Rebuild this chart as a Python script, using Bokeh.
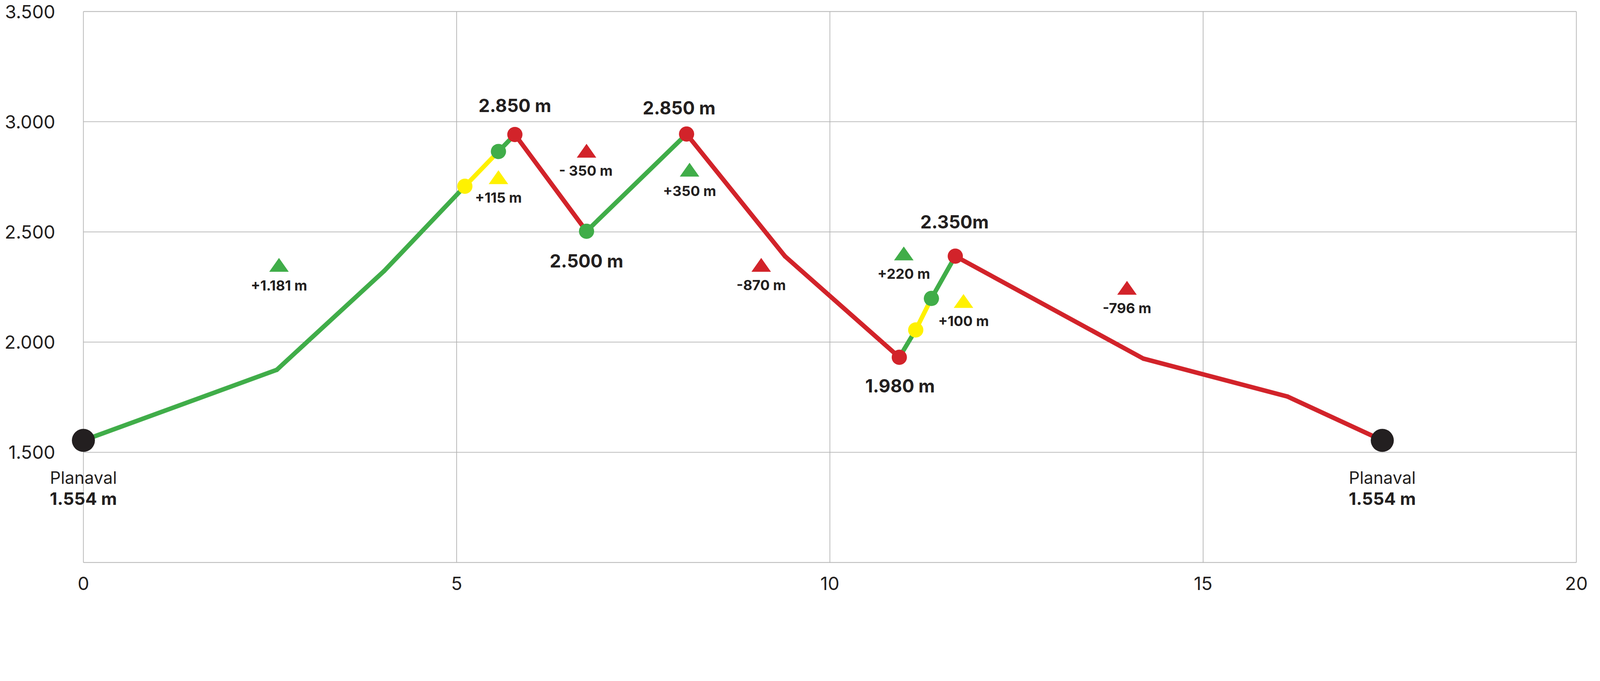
from bokeh.plotting import figure
from bokeh.models import FixedTicker, ColumnDataSource
from bokeh.core.properties import value
from bokeh.embed import file_html
from bokeh.resources import INLINE

# ---- data ----
dist = [0.0, 2.59, 4.03, 5.11, 5.56, 5.78, 6.74, 8.08, 9.40, 10.93, 11.15, 11.36, 11.68, 14.20, 16.13, 17.40]
elev = [1554, 1874, 2323, 2707, 2865, 2942, 2503, 2944, 2389, 1931, 2055, 2198, 2390, 1925, 1753, 1554]
seg_kind = ["up", "up", "up", "mid", "up", "down", "up", "down", "down", "up", "mid", "up", "down", "down", "down"]

dot_idx = [3, 4, 5, 6, 7, 9, 10, 11, 12]
dot_kind = ["mid", "up", "down", "up", "down", "down", "mid", "up", "down"]
end_idx = [0, 15]

tri_x = [2.62, 5.56, 6.74, 8.12, 9.08, 10.99, 11.79, 13.98]
tri_base = [2319, 2717, 2837, 2751, 2319, 2371, 2155, 2215]
tri_kind = ["up", "mid", "down", "up", "down", "up", "mid", "down"]

gain_x = [2.62, 5.56, 6.73, 8.12, 9.08, 10.99, 11.79, 13.98]
gain_y = [2257, 2656, 2778, 2685, 2258, 2310, 2096, 2155]
gain_text = ["+1.181 m", "+115 m", "- 350 m", "+350 m", "-870 m", "+220 m", "+100 m", "-796 m"]

peak_x = [5.78, 7.98, 6.74, 11.67, 10.94]
peak_y = [3073, 3063, 2368, 2546, 1802]
peak_text = ["2.850 m", "2.850 m", "2.500 m", "2.350m", "1.980 m"]

place_x = [0.0, 17.4]
place_name_y = [1386, 1386]
place_elev_y = [1290, 1290]
place_name = ["Planaval", "Planaval"]
place_elev = ["1.554 m", "1.554 m"]

y_ticks = [1500, 2000, 2500, 3000, 3500]
y_tick_labels = ["1.500", "2.000", "2.500", "3.000", "3.500"]
y_lines = [1000, 1500, 2000, 2500, 3000, 3500]
x_ticks = [0, 5, 10, 15, 20]
x_min, x_max = 0, 20
y_min, y_max = 1000, 3500

# ---- styles / layout (CSS px) ----
COL = {"up": "#40ad49", "down": "#d2232a", "mid": "#fff100"}
DARK = "#231f20"
GRID = "#b3b3b3"
FONT = "Inter"

PX_X = 191.1      # px per km
PX_Y = 0.5644     # px per metre
LEFT_PAD, RIGHT_PAD = 213, 2     # px of frame beyond x_min / x_max
TOP_PAD, BOTTOM_PAD = 29, 2      # px of frame beyond y_max / y_min
XR = (x_min - LEFT_PAD / PX_X, x_max + RIGHT_PAD / PX_X)
YR = (y_min - BOTTOM_PAD / PX_Y, y_max + TOP_PAD / PX_Y)
FRAME_W = int(round((XR[1] - XR[0]) * PX_X))
FRAME_H = int(round((YR[1] - YR[0]) * PX_Y))

p = figure(output_backend="svg", toolbar_location=None,
           frame_width=FRAME_W, frame_height=FRAME_H,
           min_border_left=0, min_border_top=0, min_border_right=36, min_border_bottom=91,
           x_range=XR, y_range=YR)
p.background_fill_color = "white"
p.border_fill_color = "white"
p.outline_line_color = None

p.xaxis.ticker = FixedTicker(ticks=x_ticks)
p.yaxis.ticker = FixedTicker(ticks=y_ticks)
p.yaxis.major_label_overrides = {t: l for t, l in zip(y_ticks, y_tick_labels)}
p.yaxis.fixed_location = x_min
for ax in (p.xaxis, p.yaxis):
    ax.axis_line_color = None
    ax.major_tick_line_color = None
    ax.minor_tick_line_color = None
    ax.major_label_text_font = FONT
    ax.major_label_text_font_size = "47px"
    ax.major_label_text_color = DARK
p.yaxis.major_label_standoff = 66
p.xaxis.major_label_standoff = 28
p.grid.grid_line_color = None

# grid lines limited to the data box
p.segment(x0=[x_min] * len(y_lines), y0=y_lines, x1=[x_max] * len(y_lines), y1=y_lines,
          line_color=GRID, line_width=1.8)
p.segment(x0=x_ticks, y0=[y_min] * len(x_ticks), x1=x_ticks, y1=[y_max] * len(x_ticks),
          line_color=GRID, line_width=1.8)

# profile segments
seg = ColumnDataSource(dict(x0=dist[:-1], y0=elev[:-1], x1=dist[1:], y1=elev[1:],
                            c=[COL[k] for k in seg_kind]))
p.segment("x0", "y0", "x1", "y1", source=seg, line_color="c", line_width=11.5, line_cap="round")

# dots
dots = ColumnDataSource(dict(x=[dist[i] for i in dot_idx], y=[elev[i] for i in dot_idx],
                             c=[COL[k] for k in dot_kind]))
p.scatter("x", "y", source=dots, size=39, fill_color="c", line_color=None)
p.scatter([dist[i] for i in end_idx], [elev[i] for i in end_idx], size=59, fill_color=DARK, line_color=None)

# triangles (about 50px wide, 35px tall on screen)
hw = 25 / PX_X
th = 35.5 / PX_Y
xs = [[x - hw, x + hw, x] for x in tri_x]
ys = [[b, b, b + th] for b in tri_base]
p.patches(xs, ys, fill_color=[COL[k] for k in tri_kind], line_color=None)

# labels
def labels(xv, yv, tv, size, style):
    p.text(xv, yv, text=tv, text_font=value(FONT), text_font_style=style,
           text_font_size=size, text_color=DARK, text_align="center", text_baseline="middle")

labels(gain_x, gain_y, gain_text, "36px", "bold")
labels(peak_x, peak_y, peak_text, "46px", "bold")
labels(place_x, place_name_y, place_name, "43.5px", "normal")
labels(place_x, place_elev_y, place_elev, "44.5px", "bold")

open("out.html", "w").write(file_html(p, INLINE))
